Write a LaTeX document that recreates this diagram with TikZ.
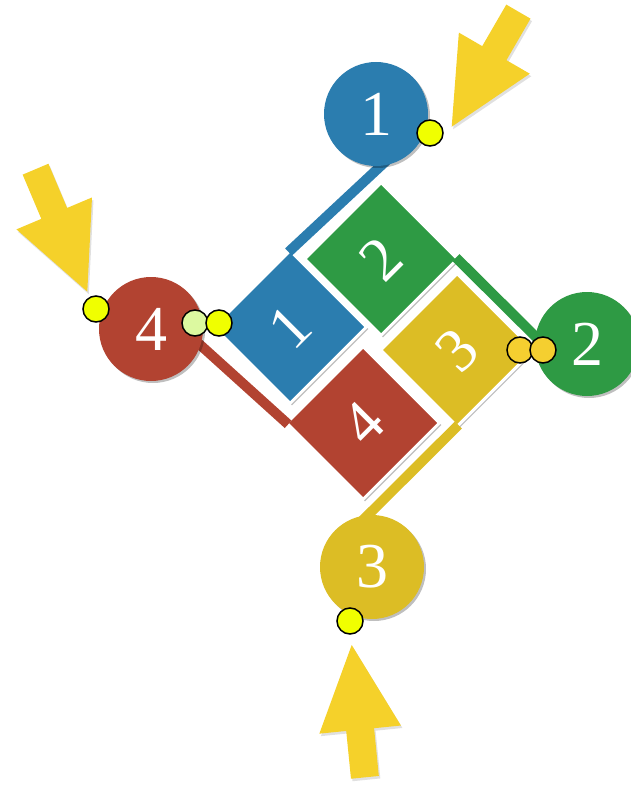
\documentclass[tikz,border=0pt]{standalone}
\usepackage{fontspec}
\setmainfont{Liberation Serif}
\usetikzlibrary{shadows}
\definecolor{cblue}{HTML}{2B7DAF}
\definecolor{cgreen}{HTML}{2E9A44}
\definecolor{cgold}{HTML}{DCBD25}
\definecolor{cred}{HTML}{B24331}
\definecolor{carrow}{HTML}{F5D12A}
\definecolor{cdot}{HTML}{F0FF00}
\definecolor{cdotlight}{HTML}{DCF9A0}
\definecolor{cdotgold}{HTML}{F5CF30}
\begin{document}
\begin{tikzpicture}[x=1pt,y=-1pt,
  disc/.style={circle, minimum size=104pt, inner sep=0pt, outer sep=0pt, text=white,
    font=\fontsize{64}{64}\selectfont,
    drop shadow={shadow xshift=2pt, shadow yshift=-2pt, opacity=0.25, fill=black}},
  tile/.style={rectangle, rotate=45, minimum size=108pt, inner sep=0pt, outer sep=0pt,
    draw=white, line width=3pt, text=white, font=\fontsize{62}{62}\selectfont,
    drop shadow={shadow xshift=2pt, shadow yshift=-2pt, opacity=0.25, fill=black}},
  band/.style={line width=10pt, line cap=butt, shorten <=-2pt},
  dot/.style={circle, minimum size=26pt, inner sep=0pt, outer sep=0pt, draw=black, line width=1.5pt},
  bigarrow/.style={fill=carrow},
  arrowshade/.style={fill=black, opacity=0.12}
]
\useasboundingbox (0,0) rectangle (630,786);

% tiles
\node[tile, fill=cblue]  (t1) at (290,327) {1};
\node[tile, fill=cred]   (t4) at (363,423) {4};
\node[tile, fill=cgold]  (t3) at (457,350) {3};
\node[tile, fill=cgreen] (t2) at (381,259) {2};

% band ends inside the circles
\coordinate (b1) at (400,148);
\coordinate (b2) at (549,350);
\coordinate (b3) at (356,527);
\coordinate (b4) at (187,333);

% bands from tile corners to the circles
\draw[band, cblue]  (t1.north east) -- (b1);
\draw[band, cgreen] (t2.south east) -- (b2);
\draw[band, cgold]  (t3.south west) -- (b3);
\draw[band, cred]   (t4.north west) -- (b4);

% circles
\node[disc, fill=cblue]  (c1) at (376,114) {1};
\node[disc, fill=cgreen] (c2) at (587,344) {2};
\node[disc, fill=cgold]  (c3) at (372,567) {3};
\node[disc, fill=cred]   (c4) at (151,329) {4};

% dots
\node[dot, fill=cdot]      (d1) at (430,133) {};
\node[dot, fill=cdot]      (d2) at (96,309) {};
\node[dot, fill=cdotlight] (d3) at (195,323) {};
\node[dot, fill=cdot]      (d4) at (219,323) {};
\node[dot, fill=cdotgold]  (d5) at (520,350) {};
\node[dot, fill=cdotgold]  (d6) at (543,350) {};
\node[dot, fill=cdot]      (d7) at (350,621) {};

% block arrows
\foreach \tx/\ty/\ang in {451.7/126.7/-120.1, 87.3/291.7/-67.1, 351.7/645/95.7}{
  \begin{scope}[shift={(\tx+1.5,\ty+2.5)}, rotate=\ang]
    \fill[arrowshade] (0,0) -- (-85,41) -- (-85,14) -- (-133,14) -- (-133,-14) -- (-85,-14) -- (-85,-41) -- cycle;
  \end{scope}
  \begin{scope}[shift={(\tx,\ty)}, rotate=\ang]
    \fill[bigarrow] (0,0) -- (-85,41) -- (-85,14) -- (-133,14) -- (-133,-14) -- (-85,-14) -- (-85,-41) -- cycle;
  \end{scope}
}
\end{tikzpicture}
\end{document}
